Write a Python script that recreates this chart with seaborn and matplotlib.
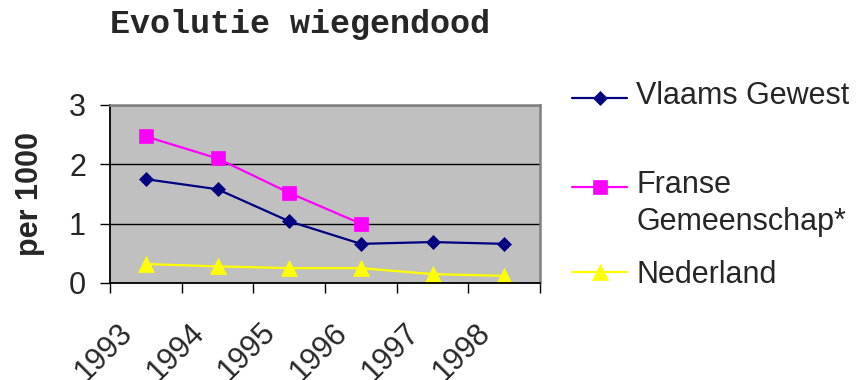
import matplotlib
matplotlib.use("Agg")
import matplotlib.pyplot as plt
from matplotlib.transforms import ScaledTranslation
import numpy as np
import seaborn as sns

# Sudden infant death rate per 1000 births
jaren = [1993, 1994, 1995, 1996, 1997, 1998]
jaar_labels = ["1993", "1994", "1995", "1996", "1997", "1998"]
vlaams_gewest = [1.75, 1.58, 1.04, 0.66, 0.69, 0.66]
franse_gemeenschap = [2.47, 2.10, 1.52, 1.00]
nederland = [0.32, 0.28, 0.25, 0.25, 0.15, 0.12]
reeks_labels = ["Vlaams Gewest", "Franse\nGemeenschap*", "Nederland"]
y_ticks = [0, 1, 2, 3]

sns.set_style("white")
plt.rcParams["font.family"] = ["Liberation Sans", "DejaVu Sans"]

W, H = 857, 380
fig = plt.figure(figsize=(W / 100, H / 100), dpi=100)
ax = fig.add_axes([110 / W, 1 - 283 / H, 430 / W, 178 / H])
ax.set_facecolor("#C0C0C0")

stijlen = [
    (vlaams_gewest, "#000080", "D", 7.2),
    (franse_gemeenschap, "#FF00FF", "s", 10),
    (nederland, "#FFFF00", "^", 11),
]
for waarden, kleur, marker, ms in stijlen:
    sns.lineplot(x=jaren[:len(waarden)], y=waarden, ax=ax, color=kleur,
                 marker=marker, markersize=ms, markeredgecolor=kleur,
                 markeredgewidth=0.5, linewidth=1.6)

FS = 22
ax.set_xlabel("")
ax.set_ylabel("per 1000", fontsize=FS, fontweight="bold")
ax.yaxis.set_label_coords(45 / W, 1 - 194 / H, transform=fig.transFigure)

ax.set_ylim(0, 3)
ax.set_yticks(y_ticks)
ax.yaxis.grid(True, color="black", linewidth=1)
ax.set_axisbelow(True)
ax.tick_params(axis="y", direction="out", length=7.2, width=1, color="black",
               labelsize=FS, pad=10, left=True)

ax.set_xlim(jaren[0] - 0.5, jaren[-1] + 0.5)
ax.set_xticks(jaren, jaar_labels)
ax.set_xticks(np.arange(jaren[0] - 0.5, jaren[-1] + 1, 1), minor=True)
ax.tick_params(axis="x", which="major", length=0, labelsize=FS, pad=0)
ax.tick_params(axis="x", which="minor", direction="out", length=7.2, width=1,
               color="black", bottom=True)
verschuiving = ScaledTranslation(-18 / 100, -45 / 100, fig.dpi_scale_trans)
for lab in ax.get_xticklabels():
    lab.set_rotation(45)
    lab.set_rotation_mode("anchor")
    lab.set_ha("right")
    lab.set_va("center")
    lab.set_transform(lab.get_transform() + verschuiving)

for kant in ["top", "right"]:
    ax.spines[kant].set_color("#808080")
    ax.spines[kant].set_linewidth(1.8)
for kant in ["left", "bottom"]:
    ax.spines[kant].set_color("black")
    ax.spines[kant].set_linewidth(1.3)

fig.text(300 / W, 1 - 25 / H, "Evolutie wiegendood", family="Liberation Mono",
         fontweight="bold", fontsize=24, ha="center", va="center")

# legend: first line of every entry sits next to its marker
handles = ax.get_lines()[:3]
labels = [reeks_labels[0] + "\n", reeks_labels[1], reeks_labels[2]]
leg = ax.legend(handles, labels, loc="upper left",
                bbox_to_anchor=(572 / W, 1 - 81 / H),
                bbox_transform=fig.transFigure, frameon=False, fontsize=FS,
                handlelength=1.8, handletextpad=0.3, borderpad=0,
                borderaxespad=0, labelspacing=0.75)
for t in leg.get_texts():
    t.set_linespacing(1.28)
stap = 35 * 72 / 100 / 2
for h in leg.legend_handles[:2]:
    h.set_ydata(np.asarray(h.get_ydata()) + stap)

fig.savefig("out.png", dpi=100)
